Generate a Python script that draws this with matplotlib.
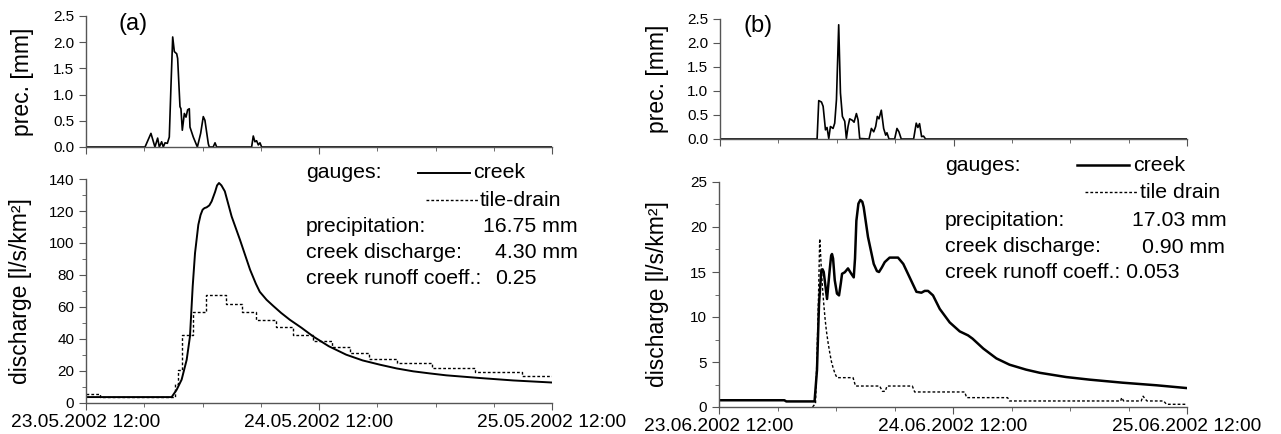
import numpy as np
import pandas as pd
import matplotlib
matplotlib.use("Agg")
import matplotlib.pyplot as plt
import matplotlib.dates as mdates
from matplotlib.lines import Line2D

plt.rcParams['font.family'] = ['Liberation Sans', 'DejaVu Sans']

# ---- data (hours after the start of each window) ----
start_a = pd.Timestamp("2002-05-23 12:00")
start_b = pd.Timestamp("2002-06-23 12:00")

prec_a_h = [0, 6.08, 6.69, 7.1, 7.38, 7.55, 7.79, 7.96, 8.14, 8.38, 8.58, 8.75, 8.93, 9.1, 9.34,
            9.44, 9.68, 9.78, 9.92, 10.13, 10.3, 10.47, 10.64, 10.71, 11.05, 11.47, 11.81, 12.08,
            12.25, 12.6, 12.7, 13.1, 13.29, 13.46, 17.06, 17.23, 17.4, 17.57, 17.75, 17.92, 18.09, 48]
prec_a = [0, 0, 0.26, 0, 0.17, 0, 0.1, 0, 0.08, 0.07, 0.19, 1.15, 2.1, 1.82, 1.78,
          1.69, 0.77, 0.73, 0.32, 0.64, 0.57, 0.71, 0.73, 0.38, 0.19, 0, 0.26, 0.58,
          0.51, 0.06, 0, 0, 0.08, 0, 0, 0.21, 0.1, 0.12, 0.04, 0.08, 0, 0]

creek_a_h = [0, 8.82, 9.34, 9.85, 10.37, 10.71, 10.99, 11.23, 11.57, 11.8, 12.01, 12.2, 12.43,
             12.7, 12.94, 13.3, 13.5, 13.7, 13.95, 14.3, 15.0, 15.86, 16.9, 17.5, 17.9, 18.6,
             19.3, 20.1, 21.0, 22.2, 23.4, 25.0, 26.8, 28.5, 30.3, 32.0, 33.7, 35.4, 37.1,
             40.6, 44.0, 48]
creek_a = [3.7, 3.7, 8.3, 14.6, 27, 41.6, 72.9, 93.7, 111.4, 117.5, 120.8, 121.8, 122.3,
           123.5, 126, 132, 136, 137.5, 136, 132.3, 116.6, 102, 83.3, 74.5, 69.5, 64.5,
           60.6, 56.3, 52, 47, 41.6, 35.5, 30.2, 26.6, 23.9, 21.6, 19.8, 18.5, 17.3,
           15.6, 14.1, 12.8]

drain_a_h = [0, 1.44, 9.2, 9.5, 9.92, 11.05, 12.4, 14.4, 16.1, 17.5, 19.6, 21.3, 23.4, 25.3,
             27.2, 29.2, 32.0, 35.6, 40.1, 44.9, 48]
drain_a = [5.6, 4.0, 12, 20.8, 42.7, 56.6, 67.7, 61.9, 56.6, 51.6, 47.5, 42.7, 38.5, 35,
           31.2, 27.7, 25, 21.9, 19.4, 16.6, 16.6]

prec_b_h = [0, 9.98, 10.15, 10.43, 10.6, 10.84, 11.0, 11.18, 11.35, 11.62, 11.79, 11.97, 12.2,
            12.38, 12.58, 12.82, 12.99, 13.16, 13.33, 13.6, 13.78, 14.02, 14.19, 14.36, 15.32,
            15.56, 15.8, 16.0, 16.17, 16.34, 16.58, 16.82, 17.03, 17.16, 17.37, 17.95, 18.19,
            18.39, 18.63, 19.9, 20.17, 20.34, 20.51, 20.72, 20.92, 21.13, 48]
prec_b = [0, 0, 0.8, 0.77, 0.68, 0.19, 0.24, 0.01, 0.26, 0.22, 0.33, 0.82, 2.38,
          0.96, 0.47, 0.37, 0.01, 0.26, 0.42, 0.39, 0.35, 0.53, 0.4, 0.01, 0,
          0.22, 0.15, 0.26, 0.47, 0.42, 0.6, 0.22, 0.08, 0.13, 0, 0, 0.22,
          0.15, 0, 0, 0.33, 0.24, 0.32, 0.05, 0.06, 0, 0]

creek_b_h = [0, 6.7, 6.9, 9.8, 10.05, 10.26, 10.5, 10.62, 10.74, 11.08, 11.35, 11.5, 11.59, 11.7,
             11.87, 12.1, 12.31, 12.5, 12.62, 12.9, 13.23, 13.57, 13.82, 13.95, 14.09, 14.3,
             14.5, 14.7, 14.84, 15.28, 15.87, 16.2, 16.41, 16.7, 17.0, 17.5, 18.36, 18.9,
             19.38, 20.25, 20.76, 21.1, 21.44, 21.95, 22.64, 23.66, 24.69, 25.54, 26.0, 27.1,
             28.45, 29.8, 31.5, 32.9, 35.6, 38.0, 41.4, 44.9, 48]
creek_b = [0.75, 0.75, 0.62, 0.62, 4.1, 11.5, 15.2, 15.3, 15.0, 12.0, 15.2, 16.8, 17.0, 16.5,
           14.1, 12.6, 12.4, 13.8, 14.8, 14.97, 15.4, 14.8, 14.4, 16.5, 20.7, 22.6,
           23.0, 22.8, 22.2, 18.9, 15.9, 15.1, 15.0, 15.5, 16.1, 16.6, 16.6, 15.9,
           14.8, 12.8, 12.7, 12.9, 12.9, 12.4, 10.9, 9.4, 8.4, 7.96, 7.6, 6.5,
           5.4, 4.7, 4.15, 3.8, 3.33, 3.04, 2.7, 2.41, 2.1]

# tile drain (b): recession curve, then level steps with short sloped transitions
drain_b_h = [9.6, 9.9, 10.05, 10.2, 10.33, 10.42, 10.5, 10.62, 10.74, 10.88, 11.01, 11.18, 11.35,
             11.52, 11.69, 11.9, 12.1, 13.75, 14.0, 16.48, 16.76, 17.05, 17.23, 19.83, 20.07,
             25.2, 25.4, 29.6, 29.8, 41.2, 41.3, 41.5, 43.3, 43.5, 43.7, 43.9, 45.6, 45.9, 48]
drain_b = [0, 0.4, 5.6, 12, 18.7, 17, 15.2, 13.2, 11.5, 9.8, 8.5, 7.2, 6.1,
           5.1, 4.4, 3.7, 3.26, 3.26, 2.33, 2.33, 1.74, 1.74, 2.33, 2.33, 1.67,
           1.67, 1.04, 1.04, 0.67, 0.67, 1.04, 0.67, 0.67, 1.2, 0.9, 0.67, 0.67,
           0.3, 0.3]


def to_time(start, hours):
    return start + pd.to_timedelta(np.array(hours), unit="h")


W, H = 1281, 434
fig = plt.figure(figsize=(W / 100, H / 100), dpi=100)


def box(x0, y0, x1, y1):
    # pixel box -> figure fractions
    return [x0 / W, 1 - y1 / H, (x1 - x0) / W, (y1 - y0) / H]


def style(ax, start):
    for s in ["top", "right"]:
        ax.spines[s].set_visible(False)
    for s in ["left", "bottom"]:
        ax.spines[s].set_color("#555555")
        ax.spines[s].set_linewidth(1.0)
    ax.set_xlim(start, start + pd.Timedelta(hours=48))
    ax.xaxis.set_major_locator(mdates.HourLocator(byhour=[12]))
    ax.xaxis.set_minor_locator(mdates.HourLocator(byhour=[0, 6, 18]))
    ax.xaxis.set_major_formatter(mdates.DateFormatter("%d.%m.%Y %H:%M"))
    ax.tick_params(which="both", direction="out", color="#555555", labelsize=11)
    ax.tick_params(which="major", length=5)
    ax.tick_params(which="minor", length=3)
    ax.tick_params(axis="x", labelsize=13.8, pad=3)


panels = [
    dict(start=start_a, top=(86, 16, 552, 147), bot=(86, 179, 552, 403),
         prec_h=prec_a_h, prec=prec_a, creek_h=creek_a_h, creek=creek_a,
         drain_h=drain_a_h, drain=drain_a, drawstyle="steps-post",
         ymax=140, ymaj=20, ymin=10, lw=1.4,
         label="(a)", label_xy=(133, 24), lab_top=-0.112, lab_bot=-0.116),
    dict(start=start_b, top=(720, 19, 1187, 139), bot=(719, 182, 1187, 407),
         prec_h=prec_b_h, prec=prec_b, creek_h=creek_b_h, creek=creek_b,
         drain_h=drain_b_h, drain=drain_b, drawstyle="default",
         ymax=25, ymaj=5, ymin=2.5, lw=1.8,
         label="(b)", label_xy=(758, 26), lab_top=-0.109, lab_bot=-0.107),
]

for p in panels:
    ax_t = fig.add_axes(box(*p["top"]))
    ax_b = fig.add_axes(box(*p["bot"]))
    style(ax_t, p["start"])
    style(ax_b, p["start"])

    ax_t.plot(to_time(p["start"], p["prec_h"]), p["prec"], color="black", lw=1.2)
    ax_t.set_ylim(0, 2.5)
    ax_t.set_yticks(np.arange(0, 2.51, 0.5))
    ax_t.yaxis.set_major_formatter(matplotlib.ticker.FormatStrFormatter("%.1f"))
    ax_t.tick_params(axis="x", labelbottom=False)
    ax_t.set_ylabel("prec. [mm]", fontsize=16.5)
    ax_t.yaxis.set_label_coords(p["lab_top"], 0.5)

    ax_b.plot(to_time(p["start"], p["creek_h"]), p["creek"], color="black", lw=p["lw"])
    ax_b.plot(to_time(p["start"], p["drain_h"]), p["drain"], color="black", lw=1.0,
              linestyle=(0, (2, 1.5)), drawstyle=p["drawstyle"])
    ax_b.set_ylim(0, p["ymax"])
    ax_b.yaxis.set_major_locator(matplotlib.ticker.MultipleLocator(p["ymaj"]))
    ax_b.yaxis.set_minor_locator(matplotlib.ticker.MultipleLocator(p["ymin"]))
    ax_b.set_ylabel("discharge [l/s/km²]", fontsize=16.5)
    ax_b.yaxis.set_label_coords(p["lab_bot"], 0.5)

    lx, ly = p["label_xy"]
    fig.text(lx / W, 1 - ly / H, p["label"], fontsize=17, ha="center", va="center")


def ftext(x, y, s, **kw):
    fig.text(x / W, 1 - y / H, s, fontsize=15.3, va="center", ha="left", **kw)


def fline(x0, x1, y, lw, ls):
    fig.add_artist(Line2D([x0 / W, x1 / W], [1 - y / H, 1 - y / H], transform=fig.transFigure,
                          color="black", lw=lw, linestyle=ls))


# annotation block (a)
ftext(306, 173, "gauges:")
fline(418, 470, 173, 1.4, "-")
ftext(473, 173, "creek")
fline(426, 478, 200, 1.0, (0, (2, 1.5)))
ftext(480, 200, "tile-drain")
ftext(306, 227, "precipitation:")
ftext(483, 227, "16.75 mm")
ftext(306, 252, "creek discharge:")
ftext(495, 252, "4.30 mm")
ftext(306, 278, "creek runoff coeff.:")
ftext(495, 278, "0.25")

# annotation block (b)
ftext(945, 165, "gauges:")
fline(1077, 1129, 165, 1.8, "-")
ftext(1133, 165, "creek")
fline(1085, 1138, 192, 1.0, (0, (2, 1.5)))
ftext(1140, 192, "tile drain")
ftext(945, 220, "precipitation:")
ftext(1132, 220, "17.03 mm")
ftext(945, 247, "creek discharge:")
ftext(1142, 247, "0.90 mm")
ftext(945, 273, "creek runoff coeff.: 0.053")

fig.savefig("out.png", dpi=100)
